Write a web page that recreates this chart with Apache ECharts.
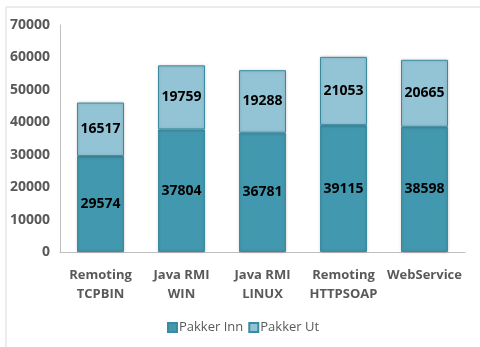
<!DOCTYPE html>
<html>
<head>
<meta charset="utf-8">
<script src="https://cdn.jsdelivr.net/npm/echarts@6/dist/echarts.min.js"></script>
<style>
  html, body { margin: 0; padding: 0; background: #fff; }
  #chart { width: 480px; height: 347px; }
</style>
</head>
<body>
<div id="chart"></div>
<script>
const categories = ['Remoting\nTCPBIN', 'Java RMI\nWIN', 'Java RMI\nLINUX', 'Remoting\nHTTPSOAP', 'WebService']
const pakkerInn = [29574, 37804, 36781, 39115, 38598]
const pakkerUt = [16517, 19759, 19288, 21053, 20665]

const chart = echarts.init(document.getElementById('chart'))

const labelStyle = {
  show: true,
  position: 'inside',
  color: '#000',
  fontFamily: 'Open Sans',
  fontWeight: 'bold',
  fontSize: 14
}

chart.setOption({
  animation: false,
  graphic: [{
    type: 'rect',
    shape: { x: 6, y: 7, width: 480, height: 360 },
    style: { fill: 'none', stroke: '#d9d9d9', lineWidth: 1 }
  }],
  grid: { left: 60, right: 15, top: 25, bottom: 95 },
  legend: {
    data: ['Pakker Inn', 'Pakker Ut'],
    left: 162,
    top: 316,
    icon: 'rect',
    itemWidth: 9,
    itemHeight: 9,
    itemGap: 5,
    textStyle: { fontFamily: 'Open Sans', fontSize: 13, color: '#595959', padding: [0, 0, 0, -3] }
  },
  xAxis: {
    type: 'category',
    data: categories,
    axisLine: { lineStyle: { color: '#bfbfbf' } },
    axisTick: { show: false },
    axisLabel: {
      margin: 14,
      color: '#595959',
      fontFamily: 'Open Sans',
      fontWeight: 'bold',
      fontSize: 13,
      lineHeight: 19,
      interval: 0
    }
  },
  yAxis: {
    type: 'value',
    min: 0,
    max: 70000,
    interval: 10000,
    axisLine: { show: true, lineStyle: { color: '#bfbfbf' } },
    axisTick: { show: false },
    splitLine: { show: false },
    axisLabel: {
      margin: 10,
      color: '#595959',
      fontFamily: 'Open Sans',
      fontWeight: 'bold',
      fontSize: 14,
      formatter: v => String(v)
    }
  },
  series: [
    {
      name: 'Pakker Inn',
      type: 'bar',
      stack: 'total',
      barWidth: 47,
      data: pakkerInn,
      itemStyle: { color: '#4298ae', borderColor: '#3a8ba0', borderWidth: 1, shadowColor: 'rgba(0,0,0,0.2)', shadowBlur: 3 },
      label: labelStyle
    },
    {
      name: 'Pakker Ut',
      type: 'bar',
      stack: 'total',
      data: pakkerUt,
      itemStyle: { color: '#93c4d5', borderColor: '#3a8ba0', borderWidth: 1, shadowColor: 'rgba(0,0,0,0.2)', shadowBlur: 3 },
      label: labelStyle
    }
  ]
})
</script>
</body>
</html>
